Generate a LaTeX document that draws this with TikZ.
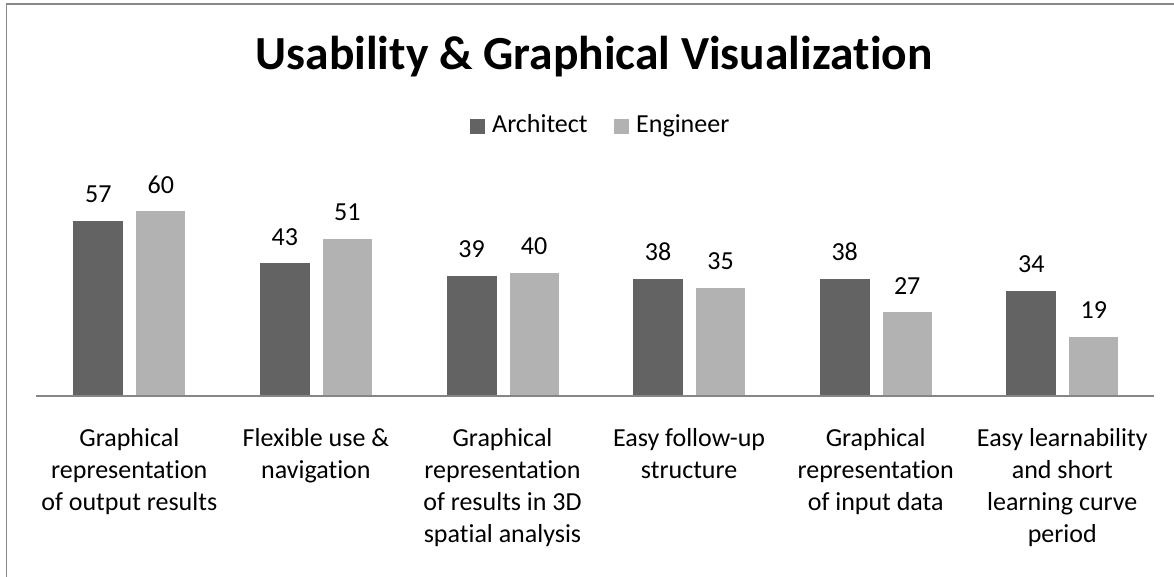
\documentclass[tikz,border=0pt]{standalone}
\usepackage{fontspec}
\setmainfont{Carlito}[Ligatures={NoCommon,NoRequired,NoContextual}]
\definecolor{archc}{HTML}{636363}
\definecolor{engc}{HTML}{B2B2B2}
\definecolor{framec}{HTML}{888888}
\definecolor{axisc}{HTML}{868686}
\begin{document}
\begin{tikzpicture}[x=1pt,y=-1pt,
  valtext/.style={anchor=base, inner sep=0pt, font=\fontsize{26}{32}\selectfont},
  cattext/.style={anchor=base, align=center, inner sep=0pt, font=\fontsize{26}{32}\selectfont},
  legtext/.style={anchor=base west, inner sep=0pt, font=\fontsize{26}{32}\selectfont},
  titletext/.style={anchor=base, inner sep=0pt, font=\fontsize{47.5}{56}\selectfont\bfseries},
  archbar/.style={fill=archc},
  engbar/.style={fill=engc}]
\useasboundingbox (0,0) rectangle (1174,577);
% frame (only top and left edges visible)
\draw[framec, line width=1.5pt] (6.5,577) -- (6.5,4) -- (1174,4);
% title
\node[titletext] (title) at (594,70) {Usability \& Graphical Visualization};
% legend
\fill[archbar] (470,119) rectangle (485,134);
\node[legtext] (legA) at (492,133) {Architect};
\fill[engbar] (614,119) rectangle (629,134);
\node[legtext] (legE) at (636,133) {Engineer};
% bars
\foreach \i/\a/\e in {0/57/60,1/43/51,2/39/40,3/38/35,4/38/27,5/34/19} {
  \pgfmathsetmacro\c{129.3+186.6*\i}
  \pgfmathsetmacro\ha{395-3.06*\a}
  \pgfmathsetmacro\he{395-3.06*\e}
  \fill[archbar] (\c-56,395) rectangle (\c-6,\ha);
  \fill[engbar] (\c+7,395) rectangle (\c+56,\he);
  \node[valtext] (va\i) at (\c-31,\ha-18) {\a};
  \node[valtext] (ve\i) at (\c+31.5,\he-18) {\e};
}
% axis
\draw[axisc, line width=2pt] (36,395.5) -- (1154,395.5);
% category labels (anchor base = baseline of last line; first line baseline at 446)
\node[cattext] (c0) at (129.3,510) {Graphical\\representation\\of output results};
\node[cattext] (c1) at (315.9,478) {Flexible use \&\\navigation};
\node[cattext] (c2) at (502.5,542) {Graphical\\representation\\of results in 3D\\spatial analysis};
\node[cattext] (c3) at (689.1,478) {Easy follow-up\\structure};
\node[cattext] (c4) at (875.7,510) {Graphical\\representation\\of input data};
\node[cattext] (c5) at (1062.3,542) {Easy learnability\\and short\\learning curve\\period};
\end{tikzpicture}
\end{document}
